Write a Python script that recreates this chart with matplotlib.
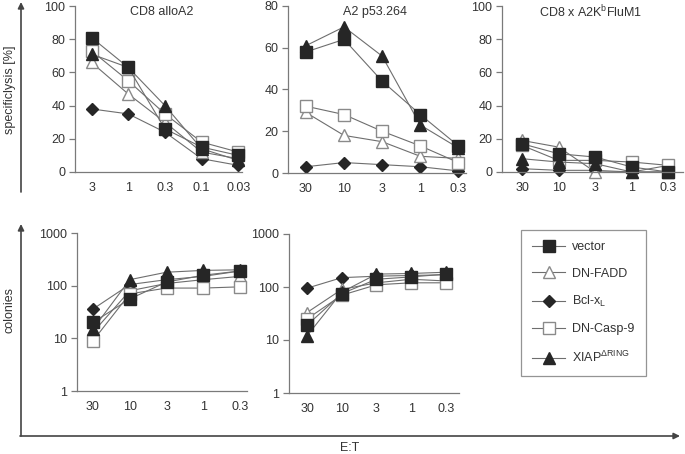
import numpy as np
import matplotlib.pyplot as plt
from matplotlib.lines import Line2D

plt.rcParams['font.family'] = ['Liberation Sans', 'DejaVu Sans']

W, H = 685, 454

series = ["vector", "DN-FADD", "Bcl-xL", "DN-Casp-9", "XIAP"]
labels = ["vector", "DN-FADD", r"Bcl-x$_\mathregular{L}$", "DN-Casp-9", r"XIAP$^{\mathregular{\Delta RING}}$"]

# lysis panels (top row)
et_allo = ["3", "1", "0.3", "0.1", "0.03"]
et_std = ["30", "10", "3", "1", "0.3"]

allo_a2 = {
    "vector":    [81, 63, 26, 15, 10],
    "DN-FADD":   [66, 47, 30, 12, 8],
    "Bcl-xL":    [38, 35, 24, 8, 4],
    "DN-Casp-9": [73, 55, 35, 18, 12],
    "XIAP":      [71, 63, 40, 14, 7],
}
p53 = {
    "vector":    [58, 64, 44, 28, 13],
    "DN-FADD":   [29, 18, 15, 8, 7],
    "Bcl-xL":    [3, 5, 4, 3, 1],
    "DN-Casp-9": [32, 28, 20, 13, 5],
    "XIAP":      [61, 70, 56, 23, 12],
}
flu = {
    "vector":    [17, 11, 9, 3, 0],
    "DN-FADD":   [19, 15, 0, 0, 4],
    "Bcl-xL":    [2, 1, 1, 0, 0],
    "DN-Casp-9": [16, 7, 7, 6, 4],
    "XIAP":      [8, 6, 5, 0, 0],
}
# colonies (bottom row)
col1 = {
    "vector":    [20, 56, 117, 158, 190],
    "DN-FADD":   [13, 80, 110, 130, 150],
    "Bcl-xL":    [36, 105, 130, 150, 190],
    "DN-Casp-9": [9, 70, 90, 90, 95],
    "XIAP":      [15, 130, 180, 195, 200],
}
col2 = {
    "vector":    [19, 75, 140, 155, 175],
    "DN-FADD":   [33, 90, 120, 140, 130],
    "Bcl-xL":    [95, 150, 160, 165, 170],
    "DN-Casp-9": [25, 70, 110, 120, 120],
    "XIAP":      [12, 80, 175, 180, 190],
}

dark = "#262626"
edge = "#8a8a8a"
styles = {
    "vector":    dict(marker="s", mfc=dark, mec=dark, ms=8.5),
    "DN-FADD":   dict(marker="^", mfc="white", mec=edge, ms=9),
    "Bcl-xL":    dict(marker="D", mfc=dark, mec=dark, ms=6),
    "DN-Casp-9": dict(marker="s", mfc="white", mec=edge, ms=8.5),
    "XIAP":      dict(marker="^", mfc=dark, mec=dark, ms=9),
}
draw_order = ["Bcl-xL", "DN-FADD", "DN-Casp-9", "XIAP", "vector"]
txt = "#333333"


def px_axes(fig, x0, x1, y0, y1):
    # pixel box -> figure fraction (y from top)
    return fig.add_axes([x0 / W, 1 - y1 / H, (x1 - x0) / W, (y1 - y0) / H])


def style_axes(ax, xlabels, xlim):
    for s in ["top", "right"]:
        ax.spines[s].set_visible(False)
    for s in ["left", "bottom"]:
        ax.spines[s].set_color("#7a7a7a")
        ax.spines[s].set_linewidth(0.9)
    ax.set_xticks(range(5))
    ax.set_xticklabels(xlabels)
    ax.set_xlim(*xlim)
    ax.tick_params(axis="x", length=0, pad=7, labelsize=9, colors=txt)
    ax.tick_params(axis="y", length=4, width=0.9, color="#7a7a7a", pad=3,
                   labelsize=9, labelcolor=txt)
    ax.patch.set_alpha(0)


def draw(ax, data):
    x = np.arange(5)
    for k in draw_order:
        ax.plot(x, data[k], color="#6e6e6e", lw=0.8, clip_on=False, **styles[k])


def panel_title(ax, s, x=0.5):
    ax.text(x, 0.965, s, transform=ax.transAxes, ha="center", va="center",
            fontsize=9, color=txt)


fig = plt.figure(figsize=(W / 100, H / 100), dpi=100)

ax1 = px_axes(fig, 75, 242, 6, 172)
draw(ax1, allo_a2)
ax1.set_ylim(0, 100)
ax1.set_yticks([0, 20, 40, 60, 80, 100])
style_axes(ax1, et_allo, (-0.45, 4.1))
panel_title(ax1, "CD8 alloA2", 0.52)

ax2 = px_axes(fig, 288, 466, 6, 173)
draw(ax2, p53)
ax2.set_ylim(0, 80)
ax2.set_yticks([0, 20, 40, 60, 80])
style_axes(ax2, et_std, (-0.47, 4.2))
panel_title(ax2, "A2 p53.264", 0.49)

ax3 = px_axes(fig, 502, 683, 6, 172)
draw(ax3, flu)
ax3.set_ylim(0, 100)
ax3.set_yticks([0, 20, 40, 60, 80, 100])
style_axes(ax3, et_std, (-0.55, 4.4))
panel_title(ax3, r"CD8 x A2K$^\mathregular{b}$FluM1", 0.49)

ax4 = px_axes(fig, 77, 247, 233, 391)
draw(ax4, col1)
ax4.set_yscale("log")
ax4.set_ylim(1, 1000)
ax4.set_yticks([1, 10, 100, 1000])
ax4.set_yticklabels(["1", "10", "100", "1000"])
ax4.minorticks_off()
style_axes(ax4, et_std, (-0.435, 4.19))

ax5 = px_axes(fig, 289, 459, 234, 393)
draw(ax5, col2)
ax5.set_yscale("log")
ax5.set_ylim(1, 1000)
ax5.set_yticks([1, 10, 100, 1000])
ax5.set_yticklabels(["1", "10", "100", "1000"])
ax5.minorticks_off()
style_axes(ax5, et_std, (-0.52, 4.38))

# legend
handles = [Line2D([0], [0], color="#6e6e6e", lw=0.8, **styles[k]) for k in series]
leg = fig.legend(handles, labels, loc="upper left", bbox_to_anchor=(521 / W, 1 - 230 / H),
                 borderaxespad=0, fontsize=9, frameon=True, fancybox=False,
                 edgecolor="#7a7a7a", handlelength=2.6, labelspacing=1.15,
                 borderpad=0.9, handletextpad=0.6)
leg.get_frame().set_linewidth(0.9)
for t in leg.get_texts():
    t.set_color(txt)

# big arrows and axis labels
ov = fig.add_axes([0, 0, 1, 1])
ov.set_xlim(0, W)
ov.set_ylim(H, 0)
ov.axis("off")
arrow = dict(arrowstyle="-|>", color="#444444", lw=1.2, mutation_scale=9, shrinkA=0, shrinkB=0)
ov.annotate("", xy=(21, 2), xytext=(21, 192), arrowprops=arrow)
ov.annotate("", xy=(21, 224), xytext=(21, 436), arrowprops=arrow)
ov.annotate("", xy=(680, 436), xytext=(20, 436), arrowprops=arrow)
ov.text(10, 90, "specificlysis [%]", rotation=90, ha="center", va="center", fontsize=9, color=txt)
ov.text(10, 310, "colonies", rotation=90, ha="center", va="center", fontsize=9, color=txt)
ov.text(350, 448, "E:T", ha="center", va="center", fontsize=9, color=txt)

fig.savefig("out.png", dpi=100)
